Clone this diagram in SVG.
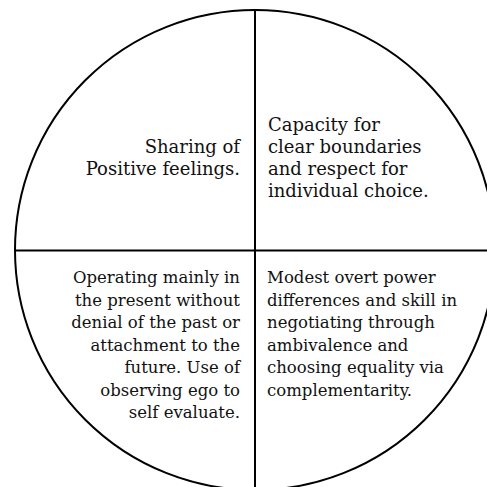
<svg xmlns="http://www.w3.org/2000/svg" width="487" height="487" viewBox="0 0 487 487">
<style>
.ln{stroke:#000;stroke-width:2;fill:none}
.t{font-family:"DejaVu Serif","Liberation Serif",serif;fill:#111}
.big{font-size:18px}
.sm{font-size:16.5px}
.r{text-anchor:end}
</style>
<rect width="487" height="487" fill="#fff"/>
<g id="frame">
<circle class="ln" cx="255" cy="250" r="240"/>
</g>
<g id="connectors">
<line class="ln" x1="15" y1="250.5" x2="487" y2="250.5"/>
<line class="ln" x1="255" y1="10" x2="255" y2="487"/>
</g>
<g id="q-top-left">
<text class="t big r" x="240" y="153">Sharing of</text>
<text class="t big r" x="240" y="175">Positive feelings.</text>
</g>
<g id="q-top-right">
<text class="t big" x="268" y="131">Capacity for</text>
<text class="t big" x="268" y="153">clear boundaries</text>
<text class="t big" x="268" y="175">and respect for</text>
<text class="t big" x="268" y="197">individual choice.</text>
</g>
<g id="q-bottom-left">
<text class="t sm r" x="240" y="283">Operating mainly in</text>
<text class="t sm r" x="240" y="306">the present without</text>
<text class="t sm r" x="240" y="328">denial of the past or</text>
<text class="t sm r" x="240" y="351">attachment to the</text>
<text class="t sm r" x="240" y="373">future. Use of</text>
<text class="t sm r" x="240" y="396">observing ego to</text>
<text class="t sm r" x="240" y="418">self evaluate.</text>
</g>
<g id="q-bottom-right">
<text class="t sm" x="267" y="283">Modest overt power</text>
<text class="t sm" x="267" y="306">differences and skill in</text>
<text class="t sm" x="267" y="328">negotiating through</text>
<text class="t sm" x="267" y="351">ambivalence and</text>
<text class="t sm" x="267" y="373">choosing equality via</text>
<text class="t sm" x="267" y="396">complementarity.</text>
</g>
</svg>
